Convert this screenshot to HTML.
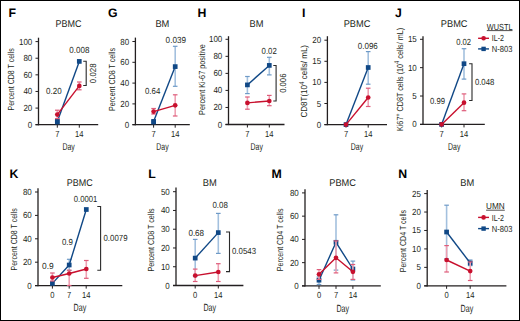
<!DOCTYPE html>
<html><head><meta charset="utf-8"><style>
html,body{margin:0;padding:0;background:#fff;}
svg{display:block;font-family:"Liberation Sans", sans-serif;}
</style></head><body>
<svg width="520" height="321" viewBox="0 0 520 321" text-rendering="geometricPrecision">
<rect x="0" y="0" width="520" height="321" fill="#fff"/>
<rect x="0.5" y="0.5" width="519" height="320" fill="none" stroke="#000" stroke-width="1"/>
<text x="8.4" y="17.3" font-size="12.3" text-anchor="start" font-weight="bold" fill="#000">F</text>
<text x="68.5" y="26.6" font-size="9.8" text-anchor="middle" textLength="26" lengthAdjust="spacingAndGlyphs" fill="#231f20">PBMC</text>
<line x1="38.5" y1="37.7" x2="38.5" y2="125.3" stroke="#231f20" stroke-width="1.3"/>
<line x1="35.5" y1="124.7" x2="38.5" y2="124.7" stroke="#231f20" stroke-width="1"/>
<text x="32.3" y="127.7" font-size="8.8" text-anchor="end" textLength="4.45" lengthAdjust="spacingAndGlyphs" fill="#231f20">0</text>
<line x1="35.5" y1="108.08" x2="38.5" y2="108.08" stroke="#231f20" stroke-width="1"/>
<text x="32.3" y="111.08" font-size="8.8" text-anchor="end" textLength="8.9" lengthAdjust="spacingAndGlyphs" fill="#231f20">20</text>
<line x1="35.5" y1="91.46" x2="38.5" y2="91.46" stroke="#231f20" stroke-width="1"/>
<text x="32.3" y="94.46" font-size="8.8" text-anchor="end" textLength="8.9" lengthAdjust="spacingAndGlyphs" fill="#231f20">40</text>
<line x1="35.5" y1="74.84" x2="38.5" y2="74.84" stroke="#231f20" stroke-width="1"/>
<text x="32.3" y="77.84" font-size="8.8" text-anchor="end" textLength="8.9" lengthAdjust="spacingAndGlyphs" fill="#231f20">60</text>
<line x1="35.5" y1="58.22" x2="38.5" y2="58.22" stroke="#231f20" stroke-width="1"/>
<text x="32.3" y="61.22" font-size="8.8" text-anchor="end" textLength="8.9" lengthAdjust="spacingAndGlyphs" fill="#231f20">80</text>
<line x1="35.5" y1="41.6" x2="38.5" y2="41.6" stroke="#231f20" stroke-width="1"/>
<text x="32.3" y="44.6" font-size="8.8" text-anchor="end" textLength="13.34" lengthAdjust="spacingAndGlyphs" fill="#231f20">100</text>
<line x1="35.5" y1="124.7" x2="98.2" y2="124.7" stroke="#231f20" stroke-width="1.3"/>
<line x1="57.3" y1="124.7" x2="57.3" y2="127.7" stroke="#231f20" stroke-width="1"/>
<text x="57.3" y="136.8" font-size="8.8" text-anchor="middle" textLength="4.23" lengthAdjust="spacingAndGlyphs" fill="#231f20">7</text>
<line x1="79.3" y1="124.7" x2="79.3" y2="127.7" stroke="#231f20" stroke-width="1"/>
<text x="79.3" y="136.8" font-size="8.8" text-anchor="middle" textLength="8.45" lengthAdjust="spacingAndGlyphs" fill="#231f20">14</text>
<text x="68.6" y="149.7" font-size="10.0" text-anchor="middle" textLength="12.3" lengthAdjust="spacingAndGlyphs" fill="#231f20">Day</text>
<text transform="translate(14.3,79.4) rotate(-90)" x="0" y="0" font-size="8.8" text-anchor="middle" textLength="62.2" lengthAdjust="spacingAndGlyphs" fill="#231f20">Percent CD8 T cells</text>
<polyline points="57.3,121.5 79.3,61.4" fill="none" stroke="#104886" stroke-width="1.4" stroke-linejoin="round"/>
<rect x="54.949999999999996" y="119.15" width="4.7" height="4.7" fill="#104886"/>
<rect x="76.95" y="59.05" width="4.7" height="4.7" fill="#104886"/>
<rect x="55.1" y="118.6" width="4.4" height="5.8" fill="#104886"/>
<line x1="57.3" y1="110.2" x2="57.3" y2="118.6" stroke="#eea0b2" stroke-width="1.6"/>
<line x1="55.0" y1="110.2" x2="59.599999999999994" y2="110.2" stroke="#de5c7a" stroke-width="1.2"/>
<line x1="55.0" y1="118.6" x2="59.599999999999994" y2="118.6" stroke="#de5c7a" stroke-width="1.2"/>
<line x1="79.3" y1="82" x2="79.3" y2="89.8" stroke="#eea0b2" stroke-width="1.6"/>
<line x1="77.0" y1="82" x2="81.6" y2="82" stroke="#de5c7a" stroke-width="1.2"/>
<line x1="77.0" y1="89.8" x2="81.6" y2="89.8" stroke="#de5c7a" stroke-width="1.2"/>
<polyline points="57.3,114.6 79.3,85.9" fill="none" stroke="#c8102e" stroke-width="1.4" stroke-linejoin="round"/>
<circle cx="57.3" cy="114.6" r="2.35" fill="#c8102e"/>
<circle cx="79.3" cy="85.9" r="2.35" fill="#c8102e"/>
<text x="69.3" y="53.2" font-size="8.8" text-anchor="start" textLength="20.1" lengthAdjust="spacingAndGlyphs" fill="#231f20">0.008</text>
<text x="46" y="94.0" font-size="8.8" text-anchor="start" textLength="15.6" lengthAdjust="spacingAndGlyphs" fill="#231f20">0.20</text>
<polyline points="83.2,61.2 86.2,61.2 86.2,85.5 83.2,85.5" fill="none" stroke="#2a2a2a" stroke-width="1.1"/>
<text transform="translate(96.0,73.3) rotate(-90)" x="0" y="0" font-size="8.8" text-anchor="middle" textLength="19.7" lengthAdjust="spacingAndGlyphs" fill="#231f20">0.028</text>
<text x="108.0" y="17.3" font-size="12.3" text-anchor="start" font-weight="bold" fill="#000">G</text>
<text x="162.4" y="26.6" font-size="9.8" text-anchor="middle" textLength="14" lengthAdjust="spacingAndGlyphs" fill="#231f20">BM</text>
<line x1="135.4" y1="37.6" x2="135.4" y2="125.3" stroke="#231f20" stroke-width="1.3"/>
<line x1="132.4" y1="124.7" x2="135.4" y2="124.7" stroke="#231f20" stroke-width="1"/>
<text x="129.20000000000002" y="127.7" font-size="8.8" text-anchor="end" textLength="4.45" lengthAdjust="spacingAndGlyphs" fill="#231f20">0</text>
<line x1="132.4" y1="103.9" x2="135.4" y2="103.9" stroke="#231f20" stroke-width="1"/>
<text x="129.20000000000002" y="106.9" font-size="8.8" text-anchor="end" textLength="8.9" lengthAdjust="spacingAndGlyphs" fill="#231f20">20</text>
<line x1="132.4" y1="83.1" x2="135.4" y2="83.1" stroke="#231f20" stroke-width="1"/>
<text x="129.20000000000002" y="86.1" font-size="8.8" text-anchor="end" textLength="8.9" lengthAdjust="spacingAndGlyphs" fill="#231f20">40</text>
<line x1="132.4" y1="62.3" x2="135.4" y2="62.3" stroke="#231f20" stroke-width="1"/>
<text x="129.20000000000002" y="65.3" font-size="8.8" text-anchor="end" textLength="8.9" lengthAdjust="spacingAndGlyphs" fill="#231f20">60</text>
<line x1="132.4" y1="41.5" x2="135.4" y2="41.5" stroke="#231f20" stroke-width="1"/>
<text x="129.20000000000002" y="44.5" font-size="8.8" text-anchor="end" textLength="8.9" lengthAdjust="spacingAndGlyphs" fill="#231f20">80</text>
<line x1="132.4" y1="124.7" x2="189.8" y2="124.7" stroke="#231f20" stroke-width="1.3"/>
<line x1="153.6" y1="124.7" x2="153.6" y2="127.7" stroke="#231f20" stroke-width="1"/>
<text x="153.6" y="136.8" font-size="8.8" text-anchor="middle" textLength="4.23" lengthAdjust="spacingAndGlyphs" fill="#231f20">7</text>
<line x1="175.2" y1="124.7" x2="175.2" y2="127.7" stroke="#231f20" stroke-width="1"/>
<text x="175.2" y="136.8" font-size="8.8" text-anchor="middle" textLength="8.45" lengthAdjust="spacingAndGlyphs" fill="#231f20">14</text>
<text x="162.5" y="149.7" font-size="10.0" text-anchor="middle" textLength="12.3" lengthAdjust="spacingAndGlyphs" fill="#231f20">Day</text>
<text transform="translate(115.2,79.5) rotate(-90)" x="0" y="0" font-size="8.8" text-anchor="middle" textLength="62.9" lengthAdjust="spacingAndGlyphs" fill="#231f20">Percent CD8 T cells</text>
<line x1="175.2" y1="46.3" x2="175.2" y2="86.3" stroke="#a3c0de" stroke-width="1.6"/>
<line x1="172.89999999999998" y1="46.3" x2="177.5" y2="46.3" stroke="#6e9ac7" stroke-width="1.2"/>
<line x1="172.89999999999998" y1="86.3" x2="177.5" y2="86.3" stroke="#6e9ac7" stroke-width="1.2"/>
<polyline points="153.6,121.6 175.2,66.6" fill="none" stroke="#104886" stroke-width="1.4" stroke-linejoin="round"/>
<rect x="151.25" y="119.25" width="4.7" height="4.7" fill="#104886"/>
<rect x="172.85" y="64.25" width="4.7" height="4.7" fill="#104886"/>
<rect x="151.5" y="119.2" width="4.4" height="5.2" fill="#104886"/>
<line x1="153.6" y1="108.5" x2="153.6" y2="114.0" stroke="#eea0b2" stroke-width="1.6"/>
<line x1="151.29999999999998" y1="108.5" x2="155.9" y2="108.5" stroke="#de5c7a" stroke-width="1.2"/>
<line x1="151.29999999999998" y1="114.0" x2="155.9" y2="114.0" stroke="#de5c7a" stroke-width="1.2"/>
<line x1="175.2" y1="94.8" x2="175.2" y2="116.0" stroke="#eea0b2" stroke-width="1.6"/>
<line x1="172.89999999999998" y1="94.8" x2="177.5" y2="94.8" stroke="#de5c7a" stroke-width="1.2"/>
<line x1="172.89999999999998" y1="116.0" x2="177.5" y2="116.0" stroke="#de5c7a" stroke-width="1.2"/>
<polyline points="153.6,111.6 175.2,105.3" fill="none" stroke="#c8102e" stroke-width="1.4" stroke-linejoin="round"/>
<circle cx="153.6" cy="111.6" r="2.35" fill="#c8102e"/>
<circle cx="175.2" cy="105.3" r="2.35" fill="#c8102e"/>
<text x="165.6" y="43.2" font-size="8.8" text-anchor="start" textLength="20.4" lengthAdjust="spacingAndGlyphs" fill="#231f20">0.039</text>
<text x="145" y="94.2" font-size="8.8" text-anchor="start" textLength="15.3" lengthAdjust="spacingAndGlyphs" fill="#231f20">0.64</text>
<text x="197.5" y="17.3" font-size="12.3" text-anchor="start" font-weight="bold" fill="#000">H</text>
<text x="256.5" y="26.6" font-size="9.8" text-anchor="middle" textLength="14" lengthAdjust="spacingAndGlyphs" fill="#231f20">BM</text>
<line x1="228.5" y1="36.2" x2="228.5" y2="125.1" stroke="#231f20" stroke-width="1.3"/>
<line x1="225.5" y1="124.5" x2="228.5" y2="124.5" stroke="#231f20" stroke-width="1"/>
<text x="222.3" y="127.5" font-size="8.8" text-anchor="end" textLength="4.45" lengthAdjust="spacingAndGlyphs" fill="#231f20">0</text>
<line x1="225.5" y1="107.46" x2="228.5" y2="107.46" stroke="#231f20" stroke-width="1"/>
<text x="222.3" y="110.46" font-size="8.8" text-anchor="end" textLength="8.9" lengthAdjust="spacingAndGlyphs" fill="#231f20">20</text>
<line x1="225.5" y1="90.42" x2="228.5" y2="90.42" stroke="#231f20" stroke-width="1"/>
<text x="222.3" y="93.42" font-size="8.8" text-anchor="end" textLength="8.9" lengthAdjust="spacingAndGlyphs" fill="#231f20">40</text>
<line x1="225.5" y1="73.38" x2="228.5" y2="73.38" stroke="#231f20" stroke-width="1"/>
<text x="222.3" y="76.38" font-size="8.8" text-anchor="end" textLength="8.9" lengthAdjust="spacingAndGlyphs" fill="#231f20">60</text>
<line x1="225.5" y1="56.34" x2="228.5" y2="56.34" stroke="#231f20" stroke-width="1"/>
<text x="222.3" y="59.34" font-size="8.8" text-anchor="end" textLength="8.9" lengthAdjust="spacingAndGlyphs" fill="#231f20">80</text>
<line x1="225.5" y1="39.3" x2="228.5" y2="39.3" stroke="#231f20" stroke-width="1"/>
<text x="222.3" y="42.3" font-size="8.8" text-anchor="end" textLength="13.34" lengthAdjust="spacingAndGlyphs" fill="#231f20">100</text>
<line x1="225.5" y1="124.5" x2="284.5" y2="124.5" stroke="#231f20" stroke-width="1.3"/>
<line x1="247.4" y1="124.5" x2="247.4" y2="127.5" stroke="#231f20" stroke-width="1"/>
<text x="247.4" y="136.8" font-size="8.8" text-anchor="middle" textLength="4.23" lengthAdjust="spacingAndGlyphs" fill="#231f20">7</text>
<line x1="269.3" y1="124.5" x2="269.3" y2="127.5" stroke="#231f20" stroke-width="1"/>
<text x="269.3" y="136.8" font-size="8.8" text-anchor="middle" textLength="8.45" lengthAdjust="spacingAndGlyphs" fill="#231f20">14</text>
<text x="256.7" y="149.7" font-size="10.0" text-anchor="middle" textLength="12.3" lengthAdjust="spacingAndGlyphs" fill="#231f20">Day</text>
<text transform="translate(205.0,79.5) rotate(-90)" x="0" y="0" font-size="8.8" text-anchor="middle" textLength="70.8" lengthAdjust="spacingAndGlyphs" fill="#231f20">Percent Ki-67 positive</text>
<line x1="247.4" y1="76.5" x2="247.4" y2="93.6" stroke="#a3c0de" stroke-width="1.6"/>
<line x1="245.1" y1="76.5" x2="249.70000000000002" y2="76.5" stroke="#6e9ac7" stroke-width="1.2"/>
<line x1="245.1" y1="93.6" x2="249.70000000000002" y2="93.6" stroke="#6e9ac7" stroke-width="1.2"/>
<line x1="269.3" y1="57.3" x2="269.3" y2="74.9" stroke="#a3c0de" stroke-width="1.6"/>
<line x1="267.0" y1="57.3" x2="271.6" y2="57.3" stroke="#6e9ac7" stroke-width="1.2"/>
<line x1="267.0" y1="74.9" x2="271.6" y2="74.9" stroke="#6e9ac7" stroke-width="1.2"/>
<polyline points="247.4,84.9 269.3,65.4" fill="none" stroke="#104886" stroke-width="1.4" stroke-linejoin="round"/>
<rect x="245.05" y="82.55000000000001" width="4.7" height="4.7" fill="#104886"/>
<rect x="266.95" y="63.050000000000004" width="4.7" height="4.7" fill="#104886"/>
<line x1="247.4" y1="97.0" x2="247.4" y2="109.2" stroke="#eea0b2" stroke-width="1.6"/>
<line x1="245.1" y1="97.0" x2="249.70000000000002" y2="97.0" stroke="#de5c7a" stroke-width="1.2"/>
<line x1="245.1" y1="109.2" x2="249.70000000000002" y2="109.2" stroke="#de5c7a" stroke-width="1.2"/>
<line x1="269.3" y1="95.4" x2="269.3" y2="105.7" stroke="#eea0b2" stroke-width="1.6"/>
<line x1="267.0" y1="95.4" x2="271.6" y2="95.4" stroke="#de5c7a" stroke-width="1.2"/>
<line x1="267.0" y1="105.7" x2="271.6" y2="105.7" stroke="#de5c7a" stroke-width="1.2"/>
<polyline points="247.4,102.9 269.3,101.0" fill="none" stroke="#c8102e" stroke-width="1.4" stroke-linejoin="round"/>
<circle cx="247.4" cy="102.9" r="2.35" fill="#c8102e"/>
<circle cx="269.3" cy="101.0" r="2.35" fill="#c8102e"/>
<text x="261.6" y="54.3" font-size="8.8" text-anchor="start" textLength="15.2" lengthAdjust="spacingAndGlyphs" fill="#231f20">0.02</text>
<polyline points="273.3,65.5 276.1,65.5 276.1,101.0 273.3,101.0" fill="none" stroke="#2a2a2a" stroke-width="1.1"/>
<text transform="translate(285.6,83.2) rotate(-90)" x="0" y="0" font-size="8.8" text-anchor="middle" textLength="19.2" lengthAdjust="spacingAndGlyphs" fill="#231f20">0.006</text>
<text x="302.0" y="17.3" font-size="12.3" text-anchor="start" font-weight="bold" fill="#000">I</text>
<text x="357" y="26.6" font-size="9.8" text-anchor="middle" textLength="26.7" lengthAdjust="spacingAndGlyphs" fill="#231f20">PBMC</text>
<line x1="327.4" y1="36.2" x2="327.4" y2="125.19999999999999" stroke="#231f20" stroke-width="1.3"/>
<line x1="324.4" y1="124.6" x2="327.4" y2="124.6" stroke="#231f20" stroke-width="1"/>
<text x="321.2" y="127.6" font-size="8.8" text-anchor="end" textLength="4.45" lengthAdjust="spacingAndGlyphs" fill="#231f20">0</text>
<line x1="324.4" y1="103.5" x2="327.4" y2="103.5" stroke="#231f20" stroke-width="1"/>
<text x="321.2" y="106.5" font-size="8.8" text-anchor="end" textLength="4.45" lengthAdjust="spacingAndGlyphs" fill="#231f20">5</text>
<line x1="324.4" y1="82.4" x2="327.4" y2="82.4" stroke="#231f20" stroke-width="1"/>
<text x="321.2" y="85.4" font-size="8.8" text-anchor="end" textLength="8.9" lengthAdjust="spacingAndGlyphs" fill="#231f20">10</text>
<line x1="324.4" y1="61.3" x2="327.4" y2="61.3" stroke="#231f20" stroke-width="1"/>
<text x="321.2" y="64.3" font-size="8.8" text-anchor="end" textLength="8.9" lengthAdjust="spacingAndGlyphs" fill="#231f20">15</text>
<line x1="324.4" y1="40.2" x2="327.4" y2="40.2" stroke="#231f20" stroke-width="1"/>
<text x="321.2" y="43.2" font-size="8.8" text-anchor="end" textLength="8.9" lengthAdjust="spacingAndGlyphs" fill="#231f20">20</text>
<line x1="324.4" y1="124.6" x2="387.0" y2="124.6" stroke="#231f20" stroke-width="1.3"/>
<line x1="346" y1="124.6" x2="346" y2="127.6" stroke="#231f20" stroke-width="1"/>
<text x="346" y="136.8" font-size="8.8" text-anchor="middle" textLength="4.23" lengthAdjust="spacingAndGlyphs" fill="#231f20">7</text>
<line x1="368.2" y1="124.6" x2="368.2" y2="127.6" stroke="#231f20" stroke-width="1"/>
<text x="368.2" y="136.8" font-size="8.8" text-anchor="middle" textLength="8.45" lengthAdjust="spacingAndGlyphs" fill="#231f20">14</text>
<text x="357" y="149.7" font-size="10.0" text-anchor="middle" textLength="12.3" lengthAdjust="spacingAndGlyphs" fill="#231f20">Day</text>
<text transform="translate(307.3,81.25) rotate(-90)" x="0" y="0" font-size="8.8" text-anchor="middle" textLength="72.5" lengthAdjust="spacingAndGlyphs" fill="#231f20">CD8T(10<tspan font-size="7" dy="-3.3">4</tspan><tspan dy="3.3"> cells/ mL)</tspan></text>
<line x1="368.2" y1="51.6" x2="368.2" y2="84.2" stroke="#a3c0de" stroke-width="1.6"/>
<line x1="365.9" y1="51.6" x2="370.5" y2="51.6" stroke="#6e9ac7" stroke-width="1.2"/>
<line x1="365.9" y1="84.2" x2="370.5" y2="84.2" stroke="#6e9ac7" stroke-width="1.2"/>
<polyline points="346,124.6 368.2,67.5" fill="none" stroke="#104886" stroke-width="1.4" stroke-linejoin="round"/>
<rect x="343.65" y="122.25" width="4.7" height="4.7" fill="#104886"/>
<rect x="365.84999999999997" y="65.15" width="4.7" height="4.7" fill="#104886"/>
<line x1="368.2" y1="88.2" x2="368.2" y2="106.5" stroke="#eea0b2" stroke-width="1.6"/>
<line x1="365.9" y1="88.2" x2="370.5" y2="88.2" stroke="#de5c7a" stroke-width="1.2"/>
<line x1="365.9" y1="106.5" x2="370.5" y2="106.5" stroke="#de5c7a" stroke-width="1.2"/>
<polyline points="346,124.6 368.2,97.5" fill="none" stroke="#c8102e" stroke-width="1.4" stroke-linejoin="round"/>
<circle cx="346" cy="124.6" r="2.35" fill="#c8102e"/>
<circle cx="368.2" cy="97.5" r="2.35" fill="#c8102e"/>
<text x="357.8" y="49.3" font-size="8.8" text-anchor="start" textLength="20" lengthAdjust="spacingAndGlyphs" fill="#231f20">0.096</text>
<text x="395.1" y="17.3" font-size="12.3" text-anchor="start" font-weight="bold" fill="#000">J</text>
<text x="454.2" y="26.6" font-size="9.8" text-anchor="middle" textLength="26.7" lengthAdjust="spacingAndGlyphs" fill="#231f20">PBMC</text>
<line x1="423.0" y1="36.2" x2="423.0" y2="125.0" stroke="#231f20" stroke-width="1.3"/>
<line x1="420.0" y1="124.4" x2="423.0" y2="124.4" stroke="#231f20" stroke-width="1"/>
<text x="416.8" y="127.4" font-size="8.8" text-anchor="end" textLength="4.45" lengthAdjust="spacingAndGlyphs" fill="#231f20">0</text>
<line x1="420.0" y1="96.03" x2="423.0" y2="96.03" stroke="#231f20" stroke-width="1"/>
<text x="416.8" y="99.03" font-size="8.8" text-anchor="end" textLength="4.45" lengthAdjust="spacingAndGlyphs" fill="#231f20">5</text>
<line x1="420.0" y1="67.67" x2="423.0" y2="67.67" stroke="#231f20" stroke-width="1"/>
<text x="416.8" y="70.67" font-size="8.8" text-anchor="end" textLength="8.9" lengthAdjust="spacingAndGlyphs" fill="#231f20">10</text>
<line x1="420.0" y1="39.3" x2="423.0" y2="39.3" stroke="#231f20" stroke-width="1"/>
<text x="416.8" y="42.3" font-size="8.8" text-anchor="end" textLength="8.9" lengthAdjust="spacingAndGlyphs" fill="#231f20">15</text>
<line x1="420.0" y1="124.4" x2="484.8" y2="124.4" stroke="#231f20" stroke-width="1.3"/>
<line x1="441.6" y1="124.4" x2="441.6" y2="127.4" stroke="#231f20" stroke-width="1"/>
<text x="441.6" y="136.8" font-size="8.8" text-anchor="middle" textLength="4.23" lengthAdjust="spacingAndGlyphs" fill="#231f20">7</text>
<line x1="464" y1="124.4" x2="464" y2="127.4" stroke="#231f20" stroke-width="1"/>
<text x="464" y="136.8" font-size="8.8" text-anchor="middle" textLength="8.45" lengthAdjust="spacingAndGlyphs" fill="#231f20">14</text>
<text x="454.2" y="150" font-size="10.0" text-anchor="middle" textLength="12.3" lengthAdjust="spacingAndGlyphs" fill="#231f20">Day</text>
<text transform="translate(402.6,79.45) rotate(-90)" x="0" y="0" font-size="8.8" text-anchor="middle" textLength="103.2" lengthAdjust="spacingAndGlyphs" fill="#231f20">Ki67<tspan font-size="6.5" dy="-3">+</tspan><tspan dy="3"> CD8T cells (10</tspan><tspan font-size="7" dy="-3.3">4</tspan><tspan dy="3.3"> cells/ mL)</tspan></text>
<line x1="464" y1="48.7" x2="464" y2="79.1" stroke="#a3c0de" stroke-width="1.6"/>
<line x1="461.7" y1="48.7" x2="466.3" y2="48.7" stroke="#6e9ac7" stroke-width="1.2"/>
<line x1="461.7" y1="79.1" x2="466.3" y2="79.1" stroke="#6e9ac7" stroke-width="1.2"/>
<polyline points="441.6,124.4 464,63.7" fill="none" stroke="#104886" stroke-width="1.4" stroke-linejoin="round"/>
<rect x="439.25" y="122.05000000000001" width="4.7" height="4.7" fill="#104886"/>
<rect x="461.65" y="61.35" width="4.7" height="4.7" fill="#104886"/>
<line x1="464" y1="93.9" x2="464" y2="110.7" stroke="#eea0b2" stroke-width="1.6"/>
<line x1="461.7" y1="93.9" x2="466.3" y2="93.9" stroke="#de5c7a" stroke-width="1.2"/>
<line x1="461.7" y1="110.7" x2="466.3" y2="110.7" stroke="#de5c7a" stroke-width="1.2"/>
<polyline points="441.6,124.4 464,102.7" fill="none" stroke="#c8102e" stroke-width="1.4" stroke-linejoin="round"/>
<circle cx="441.6" cy="124.4" r="2.35" fill="#c8102e"/>
<circle cx="464" cy="102.7" r="2.35" fill="#c8102e"/>
<text x="456.2" y="45.4" font-size="8.8" text-anchor="start" textLength="14.9" lengthAdjust="spacingAndGlyphs" fill="#231f20">0.02</text>
<polyline points="469.1,63.7 472,63.7 472,100.5 469.1,100.5" fill="none" stroke="#2a2a2a" stroke-width="1.1"/>
<text x="474.9" y="85.3" font-size="8.8" text-anchor="start" textLength="19.4" lengthAdjust="spacingAndGlyphs" fill="#231f20">0.048</text>
<text x="430" y="104.0" font-size="8.8" text-anchor="start" textLength="15" lengthAdjust="spacingAndGlyphs" fill="#231f20">0.99</text>
<text x="9.5" y="177.6" font-size="12.3" text-anchor="start" font-weight="bold" fill="#000">K</text>
<text x="79.8" y="185.8" font-size="9.8" text-anchor="middle" textLength="26" lengthAdjust="spacingAndGlyphs" fill="#231f20">PBMC</text>
<line x1="38.0" y1="188.2" x2="38.0" y2="286.20000000000005" stroke="#231f20" stroke-width="1.3"/>
<line x1="35.0" y1="285.6" x2="38.0" y2="285.6" stroke="#231f20" stroke-width="1"/>
<text x="31.8" y="288.6" font-size="8.8" text-anchor="end" textLength="4.45" lengthAdjust="spacingAndGlyphs" fill="#231f20">0</text>
<line x1="35.0" y1="262.2" x2="38.0" y2="262.2" stroke="#231f20" stroke-width="1"/>
<text x="31.8" y="265.2" font-size="8.8" text-anchor="end" textLength="8.9" lengthAdjust="spacingAndGlyphs" fill="#231f20">20</text>
<line x1="35.0" y1="238.8" x2="38.0" y2="238.8" stroke="#231f20" stroke-width="1"/>
<text x="31.8" y="241.8" font-size="8.8" text-anchor="end" textLength="8.9" lengthAdjust="spacingAndGlyphs" fill="#231f20">40</text>
<line x1="35.0" y1="215.4" x2="38.0" y2="215.4" stroke="#231f20" stroke-width="1"/>
<text x="31.8" y="218.4" font-size="8.8" text-anchor="end" textLength="8.9" lengthAdjust="spacingAndGlyphs" fill="#231f20">60</text>
<line x1="35.0" y1="192.0" x2="38.0" y2="192.0" stroke="#231f20" stroke-width="1"/>
<text x="31.8" y="195.0" font-size="8.8" text-anchor="end" textLength="8.9" lengthAdjust="spacingAndGlyphs" fill="#231f20">80</text>
<line x1="35.0" y1="285.6" x2="122.3" y2="285.6" stroke="#231f20" stroke-width="1.3"/>
<line x1="52.4" y1="285.6" x2="52.4" y2="288.6" stroke="#231f20" stroke-width="1"/>
<text x="52.4" y="297.9" font-size="8.8" text-anchor="middle" textLength="4.23" lengthAdjust="spacingAndGlyphs" fill="#231f20">0</text>
<line x1="69.2" y1="285.6" x2="69.2" y2="288.6" stroke="#231f20" stroke-width="1"/>
<text x="69.2" y="297.9" font-size="8.8" text-anchor="middle" textLength="4.23" lengthAdjust="spacingAndGlyphs" fill="#231f20">7</text>
<line x1="86.2" y1="285.6" x2="86.2" y2="288.6" stroke="#231f20" stroke-width="1"/>
<text x="86.2" y="297.9" font-size="8.8" text-anchor="middle" textLength="8.45" lengthAdjust="spacingAndGlyphs" fill="#231f20">14</text>
<text x="79.9" y="311.4" font-size="10.4" text-anchor="middle" textLength="12.6" lengthAdjust="spacingAndGlyphs" fill="#231f20">Day</text>
<text transform="translate(17.1,239.4) rotate(-90)" x="0" y="0" font-size="8.8" text-anchor="middle" textLength="62.2" lengthAdjust="spacingAndGlyphs" fill="#231f20">Percent CD8 T cells</text>
<line x1="69.2" y1="259.3" x2="69.2" y2="270.4" stroke="#a3c0de" stroke-width="1.6"/>
<line x1="66.9" y1="259.3" x2="71.5" y2="259.3" stroke="#6e9ac7" stroke-width="1.2"/>
<line x1="66.9" y1="270.4" x2="71.5" y2="270.4" stroke="#6e9ac7" stroke-width="1.2"/>
<polyline points="52.4,283.4 69.2,265.0 86.3,209.5" fill="none" stroke="#104886" stroke-width="1.4" stroke-linejoin="round"/>
<rect x="50.05" y="281.04999999999995" width="4.7" height="4.7" fill="#104886"/>
<rect x="66.85000000000001" y="262.65" width="4.7" height="4.7" fill="#104886"/>
<rect x="83.95" y="207.15" width="4.7" height="4.7" fill="#104886"/>
<line x1="52.4" y1="273.0" x2="52.4" y2="281.0" stroke="#eea0b2" stroke-width="1.6"/>
<line x1="50.1" y1="273.0" x2="54.699999999999996" y2="273.0" stroke="#de5c7a" stroke-width="1.2"/>
<line x1="50.1" y1="281.0" x2="54.699999999999996" y2="281.0" stroke="#de5c7a" stroke-width="1.2"/>
<line x1="69.2" y1="270.2" x2="69.2" y2="285.5" stroke="#eea0b2" stroke-width="1.6"/>
<line x1="66.9" y1="270.2" x2="71.5" y2="270.2" stroke="#de5c7a" stroke-width="1.2"/>
<line x1="66.9" y1="285.5" x2="71.5" y2="285.5" stroke="#de5c7a" stroke-width="1.2"/>
<line x1="86.3" y1="260.5" x2="86.3" y2="278.3" stroke="#eea0b2" stroke-width="1.6"/>
<line x1="84.0" y1="260.5" x2="88.6" y2="260.5" stroke="#de5c7a" stroke-width="1.2"/>
<line x1="84.0" y1="278.3" x2="88.6" y2="278.3" stroke="#de5c7a" stroke-width="1.2"/>
<polyline points="52.4,277.5 69.2,273.5 86.3,269.0" fill="none" stroke="#c8102e" stroke-width="1.4" stroke-linejoin="round"/>
<circle cx="52.4" cy="277.5" r="2.35" fill="#c8102e"/>
<circle cx="69.2" cy="273.5" r="2.35" fill="#c8102e"/>
<circle cx="86.3" cy="269.0" r="2.35" fill="#c8102e"/>
<text x="73.8" y="202.3" font-size="8.8" text-anchor="start" textLength="23.5" lengthAdjust="spacingAndGlyphs" fill="#231f20">0.0001</text>
<polyline points="97.3,206.5 100.6,206.5 100.6,270.2 97.3,270.2" fill="none" stroke="#2a2a2a" stroke-width="1.1"/>
<text x="103.5" y="241.1" font-size="8.8" text-anchor="start" textLength="24.0" lengthAdjust="spacingAndGlyphs" fill="#231f20">0.0079</text>
<text x="61.9" y="245.3" font-size="8.8" text-anchor="start" textLength="11" lengthAdjust="spacingAndGlyphs" fill="#231f20">0.9</text>
<text x="42" y="269.0" font-size="8.8" text-anchor="start" textLength="11.7" lengthAdjust="spacingAndGlyphs" fill="#231f20">0.9</text>
<text x="148.2" y="177.6" font-size="12.3" text-anchor="start" font-weight="bold" fill="#000">L</text>
<text x="209.8" y="185.8" font-size="9.8" text-anchor="middle" textLength="14" lengthAdjust="spacingAndGlyphs" fill="#231f20">BM</text>
<line x1="176.0" y1="187.4" x2="176.0" y2="286.1" stroke="#231f20" stroke-width="1.3"/>
<line x1="173.0" y1="285.5" x2="176.0" y2="285.5" stroke="#231f20" stroke-width="1"/>
<text x="169.8" y="288.5" font-size="8.8" text-anchor="end" textLength="4.45" lengthAdjust="spacingAndGlyphs" fill="#231f20">0</text>
<line x1="173.0" y1="266.74" x2="176.0" y2="266.74" stroke="#231f20" stroke-width="1"/>
<text x="169.8" y="269.74" font-size="8.8" text-anchor="end" textLength="8.9" lengthAdjust="spacingAndGlyphs" fill="#231f20">10</text>
<line x1="173.0" y1="247.98" x2="176.0" y2="247.98" stroke="#231f20" stroke-width="1"/>
<text x="169.8" y="250.98" font-size="8.8" text-anchor="end" textLength="8.9" lengthAdjust="spacingAndGlyphs" fill="#231f20">20</text>
<line x1="173.0" y1="229.22" x2="176.0" y2="229.22" stroke="#231f20" stroke-width="1"/>
<text x="169.8" y="232.22" font-size="8.8" text-anchor="end" textLength="8.9" lengthAdjust="spacingAndGlyphs" fill="#231f20">30</text>
<line x1="173.0" y1="210.46" x2="176.0" y2="210.46" stroke="#231f20" stroke-width="1"/>
<text x="169.8" y="213.46" font-size="8.8" text-anchor="end" textLength="8.9" lengthAdjust="spacingAndGlyphs" fill="#231f20">40</text>
<line x1="173.0" y1="191.7" x2="176.0" y2="191.7" stroke="#231f20" stroke-width="1"/>
<text x="169.8" y="194.7" font-size="8.8" text-anchor="end" textLength="8.9" lengthAdjust="spacingAndGlyphs" fill="#231f20">50</text>
<line x1="173.0" y1="285.5" x2="243.4" y2="285.5" stroke="#231f20" stroke-width="1.3"/>
<line x1="195.2" y1="285.5" x2="195.2" y2="288.5" stroke="#231f20" stroke-width="1"/>
<text x="195.2" y="297.9" font-size="8.8" text-anchor="middle" textLength="4.23" lengthAdjust="spacingAndGlyphs" fill="#231f20">0</text>
<line x1="218.3" y1="285.5" x2="218.3" y2="288.5" stroke="#231f20" stroke-width="1"/>
<text x="218.3" y="297.9" font-size="8.8" text-anchor="middle" textLength="8.45" lengthAdjust="spacingAndGlyphs" fill="#231f20">14</text>
<text x="209.8" y="311.4" font-size="10.4" text-anchor="middle" textLength="12.6" lengthAdjust="spacingAndGlyphs" fill="#231f20">Day</text>
<text transform="translate(153.9,240) rotate(-90)" x="0" y="0" font-size="8.8" text-anchor="middle" textLength="63.1" lengthAdjust="spacingAndGlyphs" fill="#231f20">Percent CD8 T cells</text>
<line x1="195.2" y1="239.4" x2="195.2" y2="276.5" stroke="#a3c0de" stroke-width="1.6"/>
<line x1="192.89999999999998" y1="239.4" x2="197.5" y2="239.4" stroke="#6e9ac7" stroke-width="1.2"/>
<line x1="192.89999999999998" y1="276.5" x2="197.5" y2="276.5" stroke="#6e9ac7" stroke-width="1.2"/>
<line x1="218.3" y1="213.4" x2="218.3" y2="253.4" stroke="#a3c0de" stroke-width="1.6"/>
<line x1="216.0" y1="213.4" x2="220.60000000000002" y2="213.4" stroke="#6e9ac7" stroke-width="1.2"/>
<line x1="216.0" y1="253.4" x2="220.60000000000002" y2="253.4" stroke="#6e9ac7" stroke-width="1.2"/>
<polyline points="195.2,258.1 218.3,232.6" fill="none" stroke="#104886" stroke-width="1.4" stroke-linejoin="round"/>
<rect x="192.85" y="255.75000000000003" width="4.7" height="4.7" fill="#104886"/>
<rect x="215.95000000000002" y="230.25" width="4.7" height="4.7" fill="#104886"/>
<line x1="195.2" y1="269.1" x2="195.2" y2="281.5" stroke="#eea0b2" stroke-width="1.6"/>
<line x1="192.89999999999998" y1="269.1" x2="197.5" y2="269.1" stroke="#de5c7a" stroke-width="1.2"/>
<line x1="192.89999999999998" y1="281.5" x2="197.5" y2="281.5" stroke="#de5c7a" stroke-width="1.2"/>
<line x1="218.3" y1="263.7" x2="218.3" y2="281.5" stroke="#eea0b2" stroke-width="1.6"/>
<line x1="216.0" y1="263.7" x2="220.60000000000002" y2="263.7" stroke="#de5c7a" stroke-width="1.2"/>
<line x1="216.0" y1="281.5" x2="220.60000000000002" y2="281.5" stroke="#de5c7a" stroke-width="1.2"/>
<polyline points="195.2,275.6 218.3,272.0" fill="none" stroke="#c8102e" stroke-width="1.4" stroke-linejoin="round"/>
<circle cx="195.2" cy="275.6" r="2.35" fill="#c8102e"/>
<circle cx="218.3" cy="272.0" r="2.35" fill="#c8102e"/>
<text x="188.4" y="236.3" font-size="8.8" text-anchor="start" textLength="15.7" lengthAdjust="spacingAndGlyphs" fill="#231f20">0.68</text>
<text x="212.4" y="208.1" font-size="8.8" text-anchor="start" textLength="15.4" lengthAdjust="spacingAndGlyphs" fill="#231f20">0.08</text>
<polyline points="226.0,232 229.5,232 229.5,271.6 226.0,271.6" fill="none" stroke="#2a2a2a" stroke-width="1.1"/>
<text x="232.0" y="254.0" font-size="8.8" text-anchor="start" textLength="24.0" lengthAdjust="spacingAndGlyphs" fill="#231f20">0.0543</text>
<text x="271.5" y="177.6" font-size="12.3" text-anchor="start" font-weight="bold" fill="#000">M</text>
<text x="342.6" y="185.8" font-size="9.8" text-anchor="middle" textLength="26.7" lengthAdjust="spacingAndGlyphs" fill="#231f20">PBMC</text>
<line x1="305.0" y1="189.2" x2="305.0" y2="286.5" stroke="#231f20" stroke-width="1.3"/>
<line x1="302.0" y1="285.9" x2="305.0" y2="285.9" stroke="#231f20" stroke-width="1"/>
<text x="298.8" y="288.9" font-size="8.8" text-anchor="end" textLength="4.45" lengthAdjust="spacingAndGlyphs" fill="#231f20">0</text>
<line x1="302.0" y1="262.65" x2="305.0" y2="262.65" stroke="#231f20" stroke-width="1"/>
<text x="298.8" y="265.65" font-size="8.8" text-anchor="end" textLength="8.9" lengthAdjust="spacingAndGlyphs" fill="#231f20">20</text>
<line x1="302.0" y1="239.4" x2="305.0" y2="239.4" stroke="#231f20" stroke-width="1"/>
<text x="298.8" y="242.4" font-size="8.8" text-anchor="end" textLength="8.9" lengthAdjust="spacingAndGlyphs" fill="#231f20">40</text>
<line x1="302.0" y1="216.15" x2="305.0" y2="216.15" stroke="#231f20" stroke-width="1"/>
<text x="298.8" y="219.15" font-size="8.8" text-anchor="end" textLength="8.9" lengthAdjust="spacingAndGlyphs" fill="#231f20">60</text>
<line x1="302.0" y1="192.9" x2="305.0" y2="192.9" stroke="#231f20" stroke-width="1"/>
<text x="298.8" y="195.9" font-size="8.8" text-anchor="end" textLength="8.9" lengthAdjust="spacingAndGlyphs" fill="#231f20">80</text>
<line x1="302.0" y1="285.9" x2="380.8" y2="285.9" stroke="#231f20" stroke-width="1.3"/>
<line x1="319" y1="285.9" x2="319" y2="288.9" stroke="#231f20" stroke-width="1"/>
<text x="319" y="297.9" font-size="8.8" text-anchor="middle" textLength="4.23" lengthAdjust="spacingAndGlyphs" fill="#231f20">0</text>
<line x1="336" y1="285.9" x2="336" y2="288.9" stroke="#231f20" stroke-width="1"/>
<text x="336" y="297.9" font-size="8.8" text-anchor="middle" textLength="4.23" lengthAdjust="spacingAndGlyphs" fill="#231f20">7</text>
<line x1="352.9" y1="285.9" x2="352.9" y2="288.9" stroke="#231f20" stroke-width="1"/>
<text x="352.9" y="297.9" font-size="8.8" text-anchor="middle" textLength="8.45" lengthAdjust="spacingAndGlyphs" fill="#231f20">14</text>
<text x="342.7" y="311.5" font-size="10.4" text-anchor="middle" textLength="12.6" lengthAdjust="spacingAndGlyphs" fill="#231f20">Day</text>
<text transform="translate(283.2,239.9) rotate(-90)" x="0" y="0" font-size="8.8" text-anchor="middle" textLength="62.7" lengthAdjust="spacingAndGlyphs" fill="#231f20">Percent CD4 T cells</text>
<line x1="319" y1="277.0" x2="319" y2="284.5" stroke="#a3c0de" stroke-width="1.6"/>
<line x1="316.7" y1="277.0" x2="321.3" y2="277.0" stroke="#6e9ac7" stroke-width="1.2"/>
<line x1="316.7" y1="284.5" x2="321.3" y2="284.5" stroke="#6e9ac7" stroke-width="1.2"/>
<line x1="336" y1="214.8" x2="336" y2="270.1" stroke="#a3c0de" stroke-width="1.6"/>
<line x1="333.7" y1="214.8" x2="338.3" y2="214.8" stroke="#6e9ac7" stroke-width="1.2"/>
<line x1="333.7" y1="270.1" x2="338.3" y2="270.1" stroke="#6e9ac7" stroke-width="1.2"/>
<line x1="352.9" y1="261.1" x2="352.9" y2="280.0" stroke="#a3c0de" stroke-width="1.6"/>
<line x1="350.59999999999997" y1="261.1" x2="355.2" y2="261.1" stroke="#6e9ac7" stroke-width="1.2"/>
<line x1="350.59999999999997" y1="280.0" x2="355.2" y2="280.0" stroke="#6e9ac7" stroke-width="1.2"/>
<polyline points="319,280.2 336,242.3 352.9,269.0" fill="none" stroke="#104886" stroke-width="1.4" stroke-linejoin="round"/>
<rect x="316.65" y="277.84999999999997" width="4.7" height="4.7" fill="#104886"/>
<rect x="333.65" y="239.95000000000002" width="4.7" height="4.7" fill="#104886"/>
<rect x="350.54999999999995" y="266.65" width="4.7" height="4.7" fill="#104886"/>
<line x1="319" y1="269.6" x2="319" y2="279.4" stroke="#eea0b2" stroke-width="1.6"/>
<line x1="316.7" y1="269.6" x2="321.3" y2="269.6" stroke="#de5c7a" stroke-width="1.2"/>
<line x1="316.7" y1="279.4" x2="321.3" y2="279.4" stroke="#de5c7a" stroke-width="1.2"/>
<line x1="336" y1="240.9" x2="336" y2="272.9" stroke="#eea0b2" stroke-width="1.6"/>
<line x1="333.7" y1="240.9" x2="338.3" y2="240.9" stroke="#de5c7a" stroke-width="1.2"/>
<line x1="333.7" y1="272.9" x2="338.3" y2="272.9" stroke="#de5c7a" stroke-width="1.2"/>
<line x1="352.9" y1="264.5" x2="352.9" y2="279.4" stroke="#eea0b2" stroke-width="1.6"/>
<line x1="350.59999999999997" y1="264.5" x2="355.2" y2="264.5" stroke="#de5c7a" stroke-width="1.2"/>
<line x1="350.59999999999997" y1="279.4" x2="355.2" y2="279.4" stroke="#de5c7a" stroke-width="1.2"/>
<polyline points="319,274.3 336,257.8 352.9,271.8" fill="none" stroke="#c8102e" stroke-width="1.4" stroke-linejoin="round"/>
<circle cx="319" cy="274.3" r="2.35" fill="#c8102e"/>
<circle cx="336" cy="257.8" r="2.35" fill="#c8102e"/>
<circle cx="352.9" cy="271.8" r="2.35" fill="#c8102e"/>
<text x="398.2" y="177.6" font-size="12.3" text-anchor="start" font-weight="bold" fill="#000">N</text>
<text x="467.3" y="185.8" font-size="9.8" text-anchor="middle" textLength="14" lengthAdjust="spacingAndGlyphs" fill="#231f20">BM</text>
<line x1="427.2" y1="189.9" x2="427.2" y2="286.40000000000003" stroke="#231f20" stroke-width="1.3"/>
<line x1="424.2" y1="285.8" x2="427.2" y2="285.8" stroke="#231f20" stroke-width="1"/>
<text x="421.0" y="288.8" font-size="8.8" text-anchor="end" textLength="4.45" lengthAdjust="spacingAndGlyphs" fill="#231f20">0</text>
<line x1="424.2" y1="267.36" x2="427.2" y2="267.36" stroke="#231f20" stroke-width="1"/>
<text x="421.0" y="270.36" font-size="8.8" text-anchor="end" textLength="4.45" lengthAdjust="spacingAndGlyphs" fill="#231f20">5</text>
<line x1="424.2" y1="248.92" x2="427.2" y2="248.92" stroke="#231f20" stroke-width="1"/>
<text x="421.0" y="251.92" font-size="8.8" text-anchor="end" textLength="8.9" lengthAdjust="spacingAndGlyphs" fill="#231f20">10</text>
<line x1="424.2" y1="230.48" x2="427.2" y2="230.48" stroke="#231f20" stroke-width="1"/>
<text x="421.0" y="233.48" font-size="8.8" text-anchor="end" textLength="8.9" lengthAdjust="spacingAndGlyphs" fill="#231f20">15</text>
<line x1="424.2" y1="212.04" x2="427.2" y2="212.04" stroke="#231f20" stroke-width="1"/>
<text x="421.0" y="215.04" font-size="8.8" text-anchor="end" textLength="8.9" lengthAdjust="spacingAndGlyphs" fill="#231f20">20</text>
<line x1="424.2" y1="193.6" x2="427.2" y2="193.6" stroke="#231f20" stroke-width="1"/>
<text x="421.0" y="196.6" font-size="8.8" text-anchor="end" textLength="8.9" lengthAdjust="spacingAndGlyphs" fill="#231f20">25</text>
<line x1="424.2" y1="285.8" x2="506.4" y2="285.8" stroke="#231f20" stroke-width="1.3"/>
<line x1="446.6" y1="285.8" x2="446.6" y2="288.8" stroke="#231f20" stroke-width="1"/>
<text x="446.6" y="297.9" font-size="8.8" text-anchor="middle" textLength="4.23" lengthAdjust="spacingAndGlyphs" fill="#231f20">0</text>
<line x1="470.2" y1="285.8" x2="470.2" y2="288.8" stroke="#231f20" stroke-width="1"/>
<text x="470.2" y="297.9" font-size="8.8" text-anchor="middle" textLength="8.45" lengthAdjust="spacingAndGlyphs" fill="#231f20">14</text>
<text x="466.9" y="311.5" font-size="10.4" text-anchor="middle" textLength="12.6" lengthAdjust="spacingAndGlyphs" fill="#231f20">Day</text>
<text transform="translate(405.8,241.1) rotate(-90)" x="0" y="0" font-size="8.8" text-anchor="middle" textLength="62.4" lengthAdjust="spacingAndGlyphs" fill="#231f20">Percent CD4 T cells</text>
<line x1="446.6" y1="205.2" x2="446.6" y2="258.8" stroke="#a3c0de" stroke-width="1.6"/>
<line x1="444.3" y1="205.2" x2="448.90000000000003" y2="205.2" stroke="#6e9ac7" stroke-width="1.2"/>
<line x1="444.3" y1="258.8" x2="448.90000000000003" y2="258.8" stroke="#6e9ac7" stroke-width="1.2"/>
<line x1="470.2" y1="260.0" x2="470.2" y2="265.6" stroke="#a3c0de" stroke-width="1.6"/>
<line x1="467.9" y1="260.0" x2="472.5" y2="260.0" stroke="#6e9ac7" stroke-width="1.2"/>
<line x1="467.9" y1="265.6" x2="472.5" y2="265.6" stroke="#6e9ac7" stroke-width="1.2"/>
<polyline points="446.6,232.0 470.2,263.0" fill="none" stroke="#104886" stroke-width="1.4" stroke-linejoin="round"/>
<rect x="444.25" y="229.65" width="4.7" height="4.7" fill="#104886"/>
<rect x="467.84999999999997" y="260.65" width="4.7" height="4.7" fill="#104886"/>
<line x1="446.6" y1="245.6" x2="446.6" y2="272.0" stroke="#eea0b2" stroke-width="1.6"/>
<line x1="444.3" y1="245.6" x2="448.90000000000003" y2="245.6" stroke="#de5c7a" stroke-width="1.2"/>
<line x1="444.3" y1="272.0" x2="448.90000000000003" y2="272.0" stroke="#de5c7a" stroke-width="1.2"/>
<line x1="470.2" y1="262.0" x2="470.2" y2="280.5" stroke="#eea0b2" stroke-width="1.6"/>
<line x1="467.9" y1="262.0" x2="472.5" y2="262.0" stroke="#de5c7a" stroke-width="1.2"/>
<line x1="467.9" y1="280.5" x2="472.5" y2="280.5" stroke="#de5c7a" stroke-width="1.2"/>
<polyline points="446.6,260.0 470.2,271.1" fill="none" stroke="#c8102e" stroke-width="1.4" stroke-linejoin="round"/>
<circle cx="446.6" cy="260.0" r="2.35" fill="#c8102e"/>
<circle cx="470.2" cy="271.1" r="2.35" fill="#c8102e"/>
<text x="486.8" y="29.7" font-size="8.8" text-anchor="start" textLength="25.7" lengthAdjust="spacingAndGlyphs" fill="#231f20">WUSTL</text>
<line x1="486.8" y1="30.6" x2="512.5" y2="30.6" stroke="#231f20" stroke-width="0.8"/>
<line x1="478.1" y1="38.3" x2="489" y2="38.3" stroke="#c8102e" stroke-width="1.4"/>
<circle cx="483.6" cy="38.3" r="2.3" fill="#c8102e"/>
<text x="491.8" y="41.4" font-size="8.8" text-anchor="start" textLength="12.2" lengthAdjust="spacingAndGlyphs" fill="#231f20">IL-2</text>
<line x1="478.1" y1="48.9" x2="489" y2="48.9" stroke="#104886" stroke-width="1.4"/>
<rect x="481.40000000000003" y="46.699999999999996" width="4.4" height="4.4" fill="#104886"/>
<text x="491.8" y="52.0" font-size="8.8" text-anchor="start" textLength="20.6" lengthAdjust="spacingAndGlyphs" fill="#231f20">N-803</text>
<text x="486.1" y="208.7" font-size="8.8" text-anchor="start" textLength="18.7" lengthAdjust="spacingAndGlyphs" fill="#231f20">UMN</text>
<line x1="486.1" y1="210.2" x2="504.8" y2="210.2" stroke="#231f20" stroke-width="0.8"/>
<line x1="478.1" y1="217.4" x2="489" y2="217.4" stroke="#c8102e" stroke-width="1.4"/>
<circle cx="483.6" cy="217.4" r="2.3" fill="#c8102e"/>
<text x="491.8" y="220.5" font-size="8.8" text-anchor="start" textLength="12.2" lengthAdjust="spacingAndGlyphs" fill="#231f20">IL-2</text>
<line x1="478.1" y1="228.6" x2="489" y2="228.6" stroke="#104886" stroke-width="1.4"/>
<rect x="481.40000000000003" y="226.4" width="4.4" height="4.4" fill="#104886"/>
<text x="491.8" y="231.7" font-size="8.8" text-anchor="start" textLength="20.6" lengthAdjust="spacingAndGlyphs" fill="#231f20">N-803</text>
</svg>
</body></html>
